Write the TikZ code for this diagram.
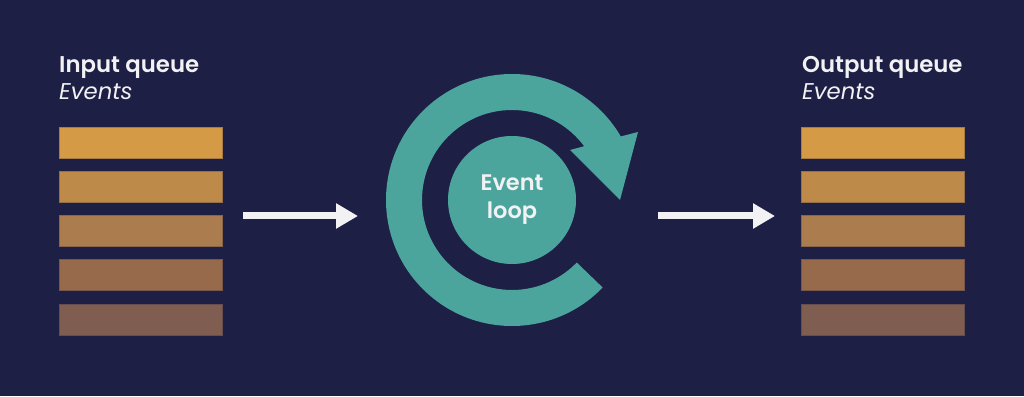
\documentclass[tikz,border=0pt]{standalone}
\usepackage{fontspec}
\setmainfont{Poppins}
\newfontfamily\headfont{Poppins SemiBold}
\usetikzlibrary{arrows.meta}

\definecolor{navy}{HTML}{1E1F45}
\definecolor{loopteal}{HTML}{4BA59C}
\definecolor{qa}{HTML}{D49A46}
\definecolor{qb}{HTML}{BE8A4A}
\definecolor{qc}{HTML}{AB7C4D}
\definecolor{qd}{HTML}{966A4B}
\definecolor{qe}{HTML}{7F5E51}
\definecolor{textwhite}{HTML}{F2F2F4}

\begin{document}
\begin{tikzpicture}
[x=1pt, y=1pt, every node/.style={inner sep=0pt, text=textwhite},
 bar/.style={rectangle, minimum width=163pt, minimum height=31pt, draw=#1!75!navy, fill=#1, line width=0.8pt},
 title/.style={anchor=base west, font=\headfont\fontsize{22.8}{28}\selectfont},
 subtitle/.style={anchor=base west, font=\itshape\fontsize{22.8}{28}\selectfont},
 flow/.style={-{Triangle[length=22pt,width=24pt]}, textwhite, line width=7pt}]
\fill [navy] (0,0) rectangle (1024,396);
\useasboundingbox (0,0) rectangle (1024,396);

% input queue
\node (intitle) at (59,323) [title] {Input queue};
\node (inevents) at (59,296) [subtitle] {Events};
\node (in1) at (140.5,253.5) [bar=qa] {};
\node (in2) at (140.5,209) [bar=qb] {};
\node (in3) at (140.5,165) [bar=qc] {};
\node (in4) at (140.5,121) [bar=qd] {};
\node (in5) at (140.5,76) [bar=qe] {};

% output queue
\node (outtitle) at (802,323) [title] {Output queue};
\node (outevents) at (802,296) [subtitle] {Events};
\node (out1) at (883,253.5) [bar=qa] {};
\node (out2) at (883,209) [bar=qb] {};
\node (out3) at (883,165) [bar=qc] {};
\node (out4) at (883,121) [bar=qd] {};
\node (out5) at (883,76) [bar=qe] {};

% event loop
\node (loop) at (512,196) [shape=circle, fill=loopteal, minimum size=128pt, align=center,
                           font=\headfont\fontsize{22.5}{28}\selectfont] {Event\\loop};
\begin{scope}[shift={(loop.center)}]
\fill [loopteal] (316:126) arc [start angle=316, end angle=30.3, radius=126]
                 -- (126,68) -- (108,0) -- (58,50)
                 -- (36.7:90) arc [start angle=36.7, end angle=316, radius=90] -- cycle;
\end{scope}

% arrows
\coordinate (a1) at (243,180);
\coordinate (a2) at (358,180);
\coordinate (b1) at (658,180);
\coordinate (b2) at (775,180);
\draw [flow] (a1) -- (a2);
\draw [flow] (b1) -- (b2);
\end{tikzpicture}
\end{document}
